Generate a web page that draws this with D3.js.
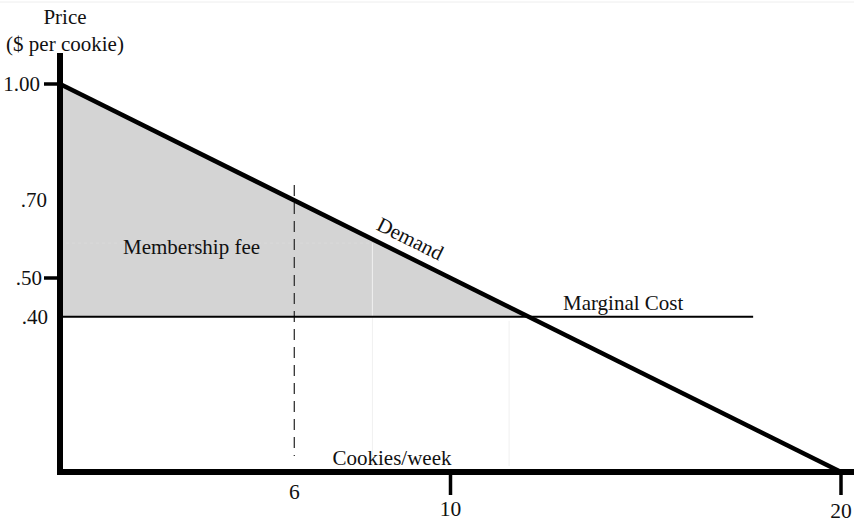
<!DOCTYPE html>
<html>
<head>
<meta charset="utf-8">
<script src="https://cdn.jsdelivr.net/npm/d3@7"></script>
<style>
  body { margin: 0; background: #fff; }
  text { font-family: "Liberation Serif", "DejaVu Serif", serif; fill: #111; }
</style>
</head>
<body>
<script>
// demand curve endpoints (quantity, price)
var demand = [[0, 1.00], [20, 0]];
var marginalCost = 0.40;
var mcEnd = 17.75;          // where the MC line stops
var dashedQ = 6;            // dashed vertical at Q = 6
var dashedTop = 0.74;
// faint guide lines seen in the picture
var guideQ = [8, 11.5];
var guideP = 0.59;

var yLabels = [1.00, 0.70, 0.50, 0.40];
var yLabelText = ["1.00", ".70", ".50", ".40"];
var yTickMarks = [1.00, 0.50];
var xLabels = [6, 10, 20];
var xTickMarks = [10, 20];

var width = 854, height = 522;

var x = d3.scaleLinear().domain([0, 20]).range([60, 841]);
var y = d3.scaleLinear().domain([0, 1]).range([472, 84]);

var svg = d3.select("body").append("svg")
  .attr("width", width)
  .attr("height", height);

// faint top border
svg.append("line")
  .attr("x1", 0).attr("x2", width).attr("y1", 2).attr("y2", 2)
  .attr("stroke", "#eee").attr("stroke-width", 1);

// shaded membership fee triangle
var qStar = (demand[0][1] - marginalCost) / (demand[0][1] - demand[1][1]) * (demand[1][0] - demand[0][0]);
svg.append("path")
  .attr("d", d3.line()([
    [x(0), y(demand[0][1])],
    [x(qStar), y(marginalCost)],
    [x(0), y(marginalCost)]
  ]) + "Z")
  .attr("fill", "#d4d4d4");

// faint guides
svg.append("line")
  .attr("x1", x(0)).attr("x2", x(guideQ[0]))
  .attr("y1", y(guideP)).attr("y2", y(guideP))
  .attr("stroke", "#dadada").attr("stroke-width", 1).attr("stroke-dasharray", "3,3");
svg.append("line")
  .attr("x1", x(guideQ[0])).attr("x2", x(guideQ[0]))
  .attr("y1", y(guideP)).attr("y2", y(0) - 6)
  .attr("stroke", "#f0f0f0").attr("stroke-width", 1);
svg.append("line")
  .attr("x1", x(guideQ[1])).attr("x2", x(guideQ[1]))
  .attr("y1", y(marginalCost) + 4).attr("y2", y(0) - 6)
  .attr("stroke", "#f0f0f0").attr("stroke-width", 1);

// dashed line at Q=6
svg.append("line")
  .attr("x1", x(dashedQ)).attr("x2", x(dashedQ))
  .attr("y1", y(dashedTop)).attr("y2", y(0) - 16)
  .attr("stroke", "#333").attr("stroke-width", 1.3)
  .attr("stroke-dasharray", "11,7");

// marginal cost
svg.append("line")
  .attr("x1", x(0)).attr("x2", x(mcEnd))
  .attr("y1", y(marginalCost)).attr("y2", y(marginalCost))
  .attr("stroke", "#000").attr("stroke-width", 2);

// demand
svg.append("path")
  .attr("d", d3.line().x(function(d) { return x(d[0]); }).y(function(d) { return y(d[1]); })(demand))
  .attr("fill", "none")
  .attr("stroke", "#000").attr("stroke-width", 4.5);

// axes
svg.append("line")
  .attr("x1", x(0)).attr("x2", x(0))
  .attr("y1", 53).attr("y2", y(0) + 3)
  .attr("stroke", "#000").attr("stroke-width", 6);
svg.append("line")
  .attr("x1", x(0) - 3).attr("x2", width)
  .attr("y1", y(0)).attr("y2", y(0))
  .attr("stroke", "#000").attr("stroke-width", 6);

// tick marks
svg.selectAll(".ytick").data(yTickMarks).enter().append("line")
  .attr("x1", 44).attr("x2", x(0))
  .attr("y1", function(d) { return y(d); }).attr("y2", function(d) { return y(d); })
  .attr("stroke", "#000").attr("stroke-width", 3.5);
svg.selectAll(".xtick").data(xTickMarks).enter().append("line")
  .attr("x1", function(d) { return x(d); }).attr("x2", function(d) { return x(d); })
  .attr("y1", y(0)).attr("y2", 495)
  .attr("stroke", "#000").attr("stroke-width", 3.5);

// y labels
var yLabelRight = [40, 47, 42, 48];
svg.selectAll(".ylab").data(yLabels).enter().append("text")
  .attr("x", function(d, i) { return yLabelRight[i]; })
  .attr("y", function(d) { return y(d) + 7; })
  .attr("text-anchor", "end")
  .style("font-size", "21px")
  .text(function(d, i) { return yLabelText[i]; });

// x labels
var xLabelY = [499, 516, 518];
svg.selectAll(".xlab").data(xLabels).enter().append("text")
  .attr("x", function(d) { return x(d); })
  .attr("y", function(d, i) { return xLabelY[i]; })
  .attr("text-anchor", "middle")
  .style("font-size", "21.5px")
  .text(function(d) { return d; });

// titles
svg.append("text").attr("x", 65).attr("y", 24).attr("text-anchor", "middle")
  .style("font-size", "21px").text("Price");
svg.append("text").attr("x", 65).attr("y", 51).attr("text-anchor", "middle")
  .style("font-size", "21px").text("($ per cookie)");
svg.append("text").attr("x", 392).attr("y", 465).attr("text-anchor", "middle")
  .style("font-size", "21px").text("Cookies/week");
svg.append("text").attr("x", 123).attr("y", 254)
  .style("font-size", "21px").text("Membership fee");
svg.append("text").attr("x", 563).attr("y", 310)
  .style("font-size", "21px").text("Marginal Cost");

// demand label rotated along the line
var ang = Math.atan2(y(demand[1][1]) - y(demand[0][1]), x(demand[1][0]) - x(demand[0][0])) * 180 / Math.PI;
svg.append("text")
  .attr("transform", "translate(407,245) rotate(" + ang + ")")
  .attr("text-anchor", "middle")
  .style("font-size", "21px")
  .text("Demand");
</script>
</body>
</html>
